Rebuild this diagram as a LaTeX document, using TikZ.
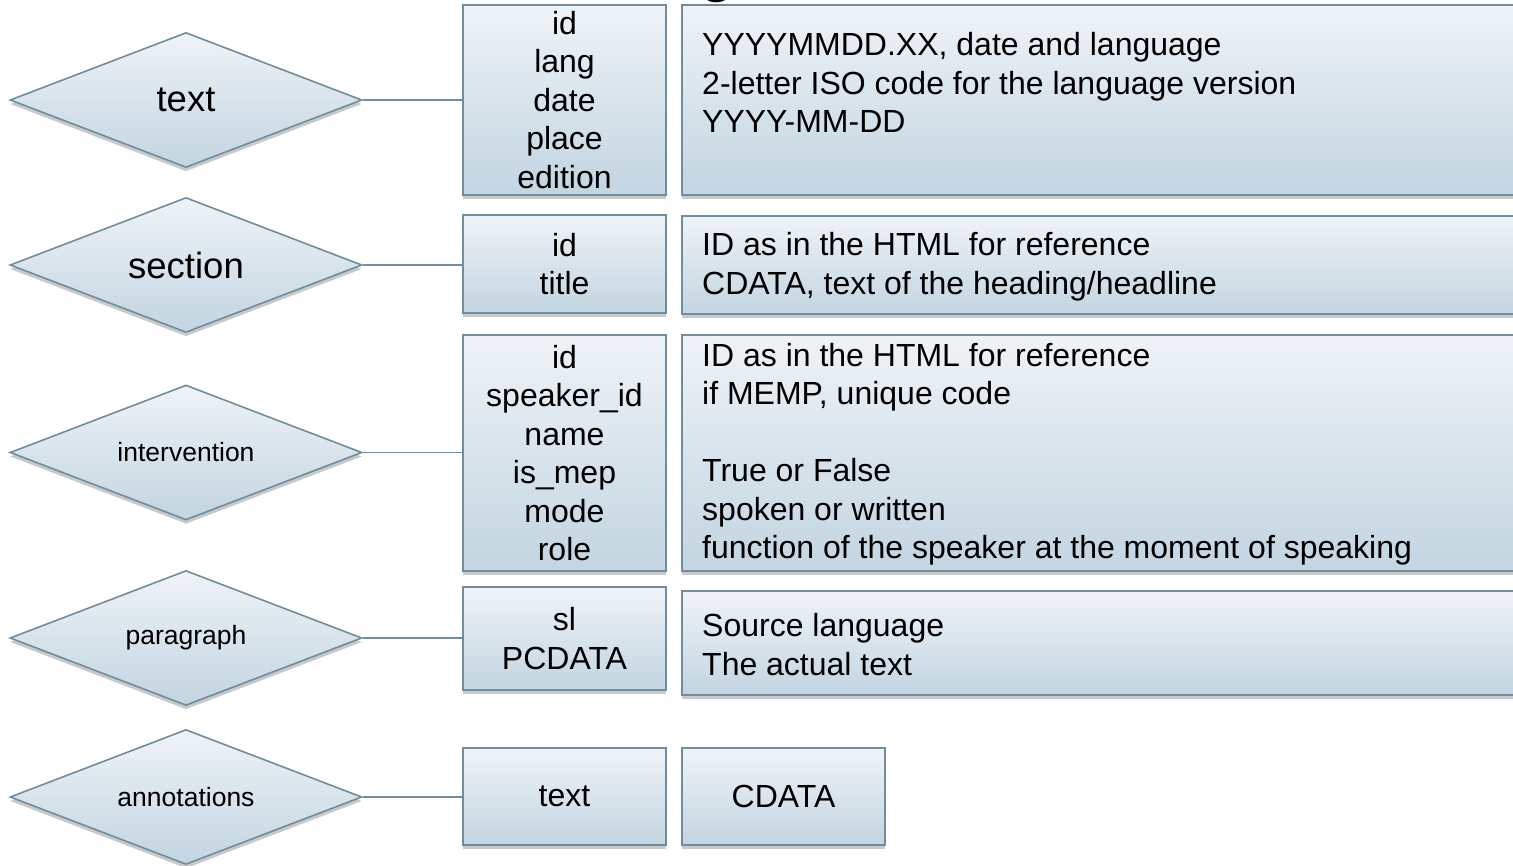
\documentclass[tikz,border=0pt]{standalone}
\usepackage{fontspec}
\setmainfont{Liberation Sans}
\usetikzlibrary{shapes.geometric,shadows}
\definecolor{edgeC}{RGB}{112,141,158}
\definecolor{topC}{RGB}{239,243,247}
\definecolor{botC}{RGB}{194,213,225}
\tikzset{
  shade/.style={drop shadow={shadow xshift=0pt, shadow yshift=-4pt, opacity=0.3, fill=black!70}},
  box/.style={rectangle, draw=edgeC, line width=1.6pt, top color=topC, bottom color=botC,
    inner sep=0pt, align=center, shade, font=\fontsize{32}{38.5}\selectfont},
  dia/.style={diamond, shape aspect=2.6, draw=edgeC, line width=1.6pt, top color=topC, bottom color=botC,
    inner sep=0pt, minimum width=352pt, minimum height=135pt, shade},
  bigl/.style={font=\fontsize{36.5}{40}\selectfont},
  smalll/.style={font=\fontsize{26.5}{30}\selectfont},
  desc/.style={anchor=west, align=left, inner sep=0pt, font=\fontsize{32}{38.5}\selectfont},
  link/.style={draw=edgeC, line width=1.6pt},
}
\begin{document}
\begin{tikzpicture}[x=1pt,y=-1pt]
\useasboundingbox (0,0) rectangle (1513,866);
% cut-off title fragment
\node[anchor=south, inner sep=0pt, font=\fontsize{64}{70}\selectfont] (ttl) at (717,3) {g};
% diamonds
\node[dia, bigl] (dtext) at (186,100) {text};
\node[dia, bigl] (dsec) at (186,265) {section};
\node[dia, smalll] (dint) at (186,452.5) {intervention};
\node[dia, smalll] (dpar) at (186,638) {paragraph};
\node[dia, smalll] (dann) at (186,797) {annotations};
% middle boxes
\node[box, minimum width=203pt, minimum height=190pt] (mtext) at (564.5,100) {id\\lang\\date\\place\\edition};
\node[box, minimum width=203pt, minimum height=98pt] (msec) at (564.5,264) {id\\title};
\node[box, minimum width=203pt, minimum height=236pt] (mint) at (564.5,453) {id\\speaker\_id\\name\\is\_mep\\mode\\role};
\node[box, minimum width=203pt, minimum height=103pt] (mpar) at (564.5,638.5) {sl\\PCDATA};
\node[box, minimum width=203pt, minimum height=97pt] (mann) at (564.5,796.5) {text};
% right boxes
\node[box, minimum width=848pt, minimum height=190pt] (rtext) at (1106,100) {};
\node[box, minimum width=848pt, minimum height=98pt] (rsec) at (1106,265) {};
\node[box, minimum width=848pt, minimum height=236pt] (rint) at (1106,453) {};
\node[box, minimum width=848pt, minimum height=104pt] (rpar) at (1106,643) {};
\node[box, minimum width=203pt, minimum height=97pt] (rann) at (783.5,796.5) {CDATA};
% descriptions
\node[desc] (ttext) at (702,82.5) {YYYYMMDD.XX, date and language\\2-letter ISO code for the language version\\YYYY-MM-DD};
\node[desc] (tsec) at (702,266.5) {ID as in the HTML for reference\\CDATA, text of the heading/headline};
\node[desc] (tint) at (702,454) {ID as in the HTML for reference\\if MEMP, unique code\\\mbox{}\\True or False\\spoken or written\\function of the speaker at the moment of speaking};
\node[desc] (tpar) at (702,644.5) {Source language\\The actual text};
% connectors
\draw[link] (dtext.east) -- (dtext.east -| mtext.west);
\draw[link] (dsec.east) -- (dsec.east -| msec.west);
\draw[link] (dint.east) -- (dint.east -| mint.west);
\draw[link] (dpar.east) -- (dpar.east -| mpar.west);
\draw[link] (dann.east) -- (dann.east -| mann.west);
\end{tikzpicture}
\end{document}
